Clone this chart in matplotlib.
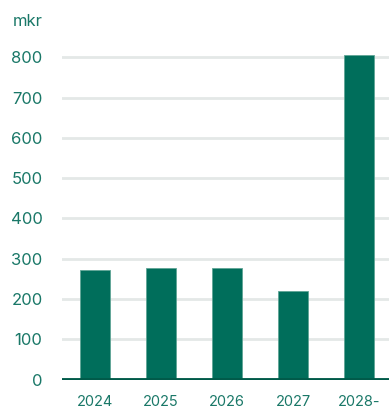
import matplotlib
matplotlib.use("Agg")
import matplotlib.pyplot as plt

years = ["2024", "2025", "2026", "2027", "2028-"]
values = [271, 278, 276, 219, 805]
yticks = [0, 100, 200, 300, 400, 500, 600, 700, 800]

bar_color = "#006e5b"
text_color = "#1a7868"
grid_color = "#e4e8e7"

plt.rcParams["font.family"] = ["Inter", "DejaVu Sans"]

W, H = 389, 409
fig = plt.figure(figsize=(W / 100, H / 100), dpi=100)
# axes placed in pixel terms: left 62, right 389, bottom y=379.5, top y=50
ax = fig.add_axes([62 / W, (H - 379.5) / H, (W - 62) / W, (379.5 - 50) / H])

x = range(len(years))
ax.bar(x, values, width=0.45, color=bar_color, edgecolor="#5fa596", linewidth=0.6, zorder=3)

ax.set_xlim(-0.5, 4.45)
ax.set_ylim(0, 329.5 / 0.4025)
ax.set_yticks(yticks)
ax.set_xticks(list(x))
ax.set_xticklabels(years)
for y in yticks[1:]:
    ax.axhline(y, color=grid_color, linewidth=2, zorder=1)
ax.axhline(0, color="#005a49", linewidth=3.5, zorder=4)

for s in ax.spines.values():
    s.set_visible(False)
ax.tick_params(axis="both", length=0, colors=text_color)
ax.tick_params(axis="y", labelsize=12, pad=14)
ax.tick_params(axis="x", labelsize=10.5, pad=11)

fig.text(13 / W, 1 - 21 / H, "mkr", color=text_color, fontsize=12, va="center", ha="left")

fig.savefig("out.png", dpi=100)
